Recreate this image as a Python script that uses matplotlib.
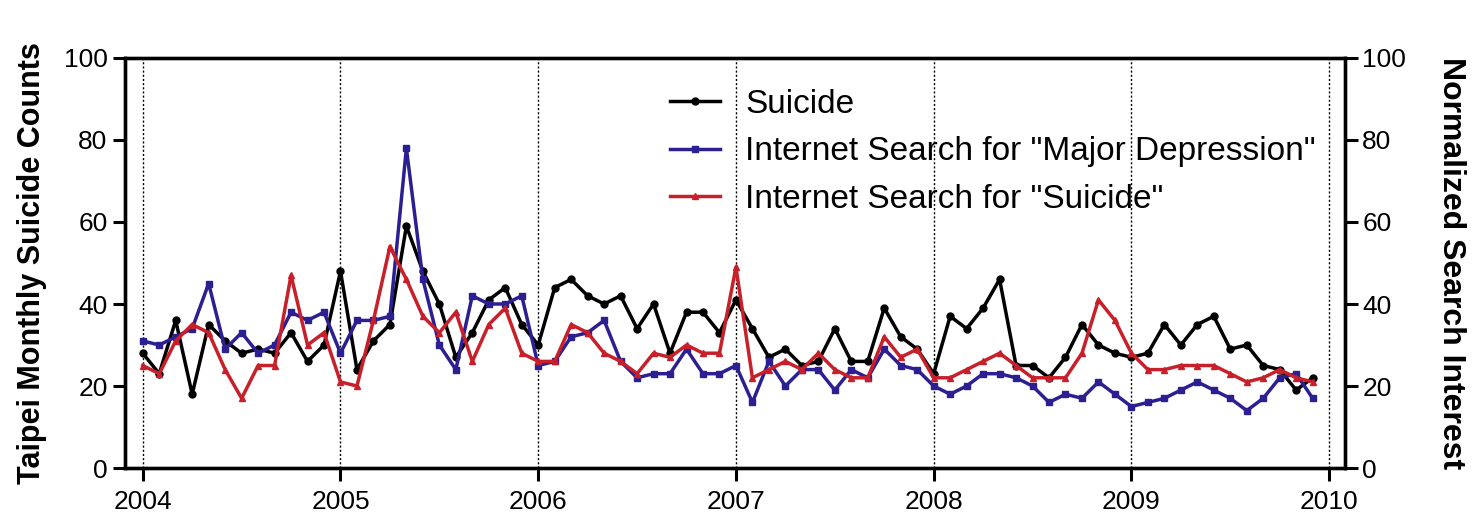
import numpy as np
import pandas as pd
import matplotlib
matplotlib.use('Agg')
import matplotlib.pyplot as plt

plt.rcParams['font.family'] = ['Liberation Sans', 'DejaVu Sans']

# monthly values, Jan 2004 .. Dec 2009
months = pd.date_range('2004-01-01', periods=72, freq='MS')

suicide = [28, 23, 36, 18, 35, 31, 28, 29, 28, 33, 26, 30,
           48, 24, 31, 35, 59, 48, 40, 27, 33, 41, 44, 35,
           30, 44, 46, 42, 40, 42, 34, 40, 28, 38, 38, 33,
           41, 34, 27, 29, 25, 26, 34, 26, 26, 39, 32, 29,
           23, 37, 34, 39, 46, 25, 25, 22, 27, 35, 30, 28,
           27, 28, 35, 30, 35, 37, 29, 30, 25, 24, 19, 22]

major_depression = [31, 30, 32, 34, 45, 29, 33, 28, 30, 38, 36, 38,
                    28, 36, 36, 37, 78, 46, 30, 24, 42, 40, 40, 42,
                    25, 26, 32, 33, 36, 26, 22, 23, 23, 29, 23, 23,
                    25, 16, 26, 20, 24, 24, 19, 24, 22, 29, 25, 24,
                    20, 18, 20, 23, 23, 22, 20, 16, 18, 17, 21, 18,
                    15, 16, 17, 19, 21, 19, 17, 14, 17, 22, 23, 17]

suicide_search = [25, 23, 31, 35, 33, 24, 17, 25, 25, 47, 30, 33,
                  21, 20, 36, 54, 46, 37, 33, 38, 26, 35, 39, 28,
                  26, 26, 35, 33, 28, 26, 23, 28, 27, 30, 28, 28,
                  49, 22, 24, 26, 24, 28, 24, 22, 22, 32, 27, 29,
                  22, 22, 24, 26, 28, 25, 22, 22, 22, 28, 41, 36,
                  28, 24, 24, 25, 25, 25, 23, 21, 22, 24, 22, 21]

years = [2004, 2005, 2006, 2007, 2008, 2009, 2010]

x = months.year + (months.month - 1) / 12.0

fig = plt.figure(figsize=(14.77, 5.21), dpi=100)
ax = fig.add_axes([0.0846, 0.1017, 0.826, 0.787])
ax2 = ax.twinx()

l1, = ax.plot(x, suicide, color='black', lw=2.5, marker='o', ms=5, zorder=3)
l2, = ax2.plot(x, major_depression, color='#2b1f92', lw=2.5, marker='s', ms=5, zorder=2)
l3, = ax2.plot(x, suicide_search, color='#c8202a', lw=2.5, marker='^', ms=5, zorder=2)

for yr in years:
    ax.axvline(yr, color='black', lw=1.0, ls=(0, (1.5, 1.5)), zorder=1)

for a in (ax, ax2):
    a.set_ylim(0, 100)
    a.set_yticks([0, 20, 40, 60, 80, 100])
    a.set_xlim(2003.91, 2010.08)
    for s in a.spines.values():
        s.set_linewidth(2.4)
    a.tick_params(width=2.2, length=9, labelsize=19)

ax.set_xticks(years)
ax.tick_params(axis='x', labelsize=19, pad=7)

ax.set_ylabel('Taipei Monthly Suicide Counts', fontsize=22, fontweight='bold', labelpad=12)
ax2.set_ylabel('Normalized Search Interest', fontsize=23, fontweight='bold',
               rotation=270, labelpad=43)

ax.legend([l1, l2, l3],
          ['Suicide', 'Internet Search for "Major Depression"', 'Internet Search for "Suicide"'],
          loc='upper left', bbox_to_anchor=(0.436, 0.958), frameon=False, fontsize=24,
          handlelength=1.5, handletextpad=0.75, labelspacing=0.5, borderaxespad=0.0)

fig.savefig('out.png', dpi=100)
